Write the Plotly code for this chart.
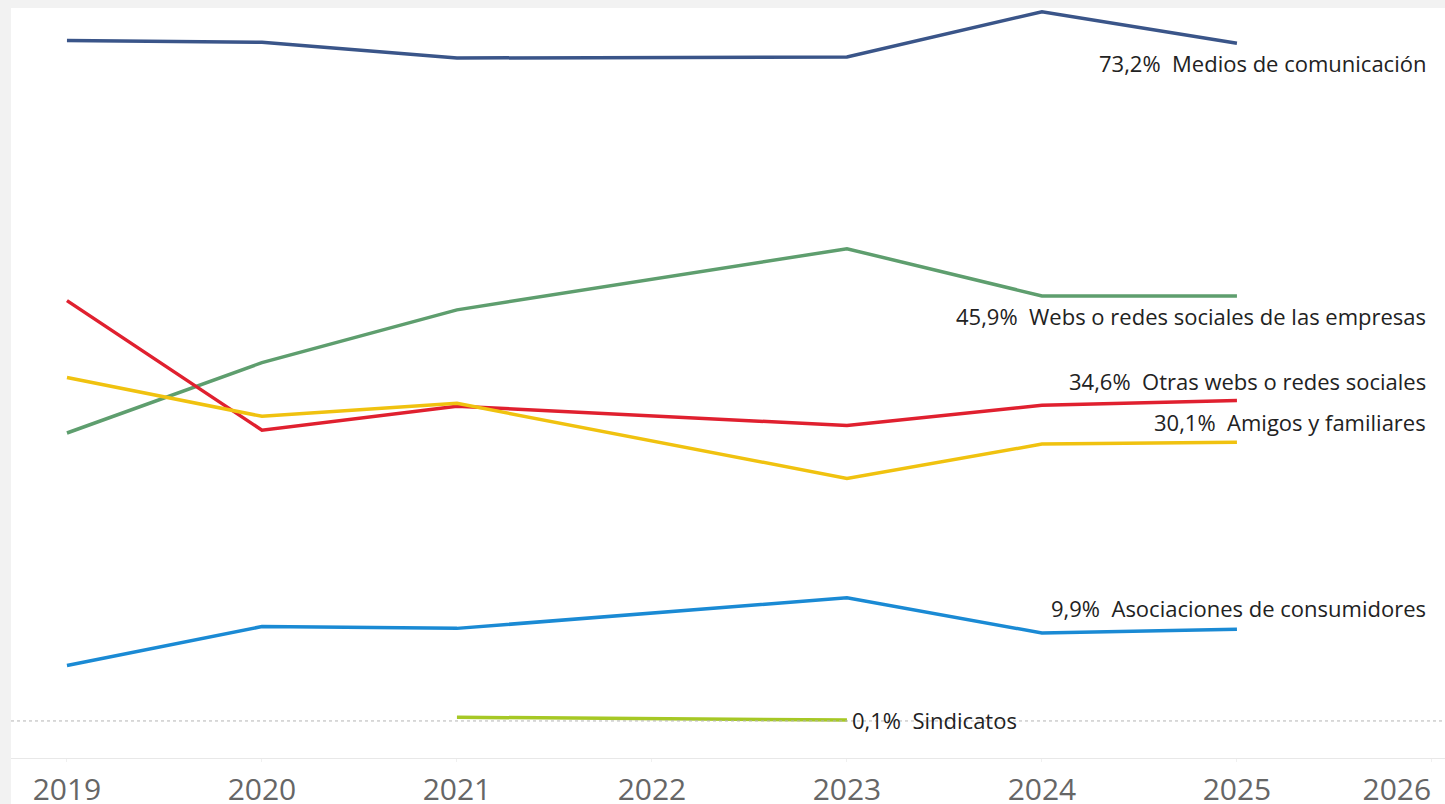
import plotly.graph_objects as go

years = [2019, 2020, 2021, 2023, 2024, 2025]

medios = [73.5, 73.3, 71.6, 71.7, 76.6, 73.2]
webs_empresas = [31.1, 38.7, 44.4, 51.0, 45.9, 45.9]
otras_webs = [45.4, 31.4, 34.0, 31.9, 34.1, 34.6]
amigos = [37.1, 32.9, 34.3, 26.2, 29.9, 30.1]
asociaciones = [6.0, 10.2, 10.0, 13.3, 9.5, 9.9]

sindicatos_years = [2021, 2023]
sindicatos = [0.4, 0.1]

tick_years = [2019, 2020, 2021, 2022, 2023, 2024, 2025, 2026]

series = [
    ("Medios de comunicación", years, medios, "#3a5589", 20),
    ("Webs o redes sociales de las empresas", years, webs_empresas, "#5e9e6e", 20),
    ("Otras webs o redes sociales", years, otras_webs, "#e0202f", -20),
    ("Amigos y familiares", years, amigos, "#f0c20f", -20),
    ("Asociaciones de consumidores", years, asociaciones, "#1a8ad4", -21),
]

fig = go.Figure()

for name, xs, ys, color, shift in series:
    fig.add_trace(go.Scatter(x=xs, y=ys, mode="lines", name=name,
                             line=dict(color=color, width=3.5)))
    fig.add_annotation(x=1, xref="paper", y=ys[-1], yref="y",
                       text=f"{ys[-1]:.1f}%  {name}".replace(".", ","),
                       xanchor="right", yanchor="middle", xshift=-17, yshift=-shift,
                       showarrow=False, font=dict(size=22, color="#222222"))

fig.add_trace(go.Scatter(x=sindicatos_years, y=sindicatos, mode="lines", name="Sindicatos",
                         line=dict(color="#a6c825", width=3.5)))
fig.add_annotation(x=sindicatos_years[-1], y=sindicatos[-1],
                   text=f"{sindicatos[-1]:.1f}%  Sindicatos".replace(".", ","),
                   xanchor="left", yanchor="middle", xshift=3,
                   showarrow=False, font=dict(size=22, color="#222222"))

fig.add_hline(y=0, line=dict(color="#b5b5b5", width=1, dash="dot"))

# white panel behind the axis labels
fig.add_shape(type="rect", xref="paper", yref="paper", x0=0, x1=1.01, y0=-0.07, y1=1,
              fillcolor="white", line_width=0, layer="below")

tick_text = [str(y) for y in tick_years]
tick_text[-1] = tick_text[-1] + "\u00a0" * 9

fig.update_layout(
    width=1445, height=804,
    margin=dict(l=11, r=0, t=8, b=46),
    paper_bgcolor="#f2f2f2", plot_bgcolor="white",
    showlegend=False,
    font=dict(family="Open Sans, sans-serif"),
    xaxis=dict(range=[2018.713, 2026.067], tickvals=tick_years, ticktext=tick_text,
               showgrid=False, zeroline=False, showline=True, linecolor="#e8e8e8",
               ticks="outside", ticklen=3, tickcolor="#f0f0f0",
               ticklabeloverflow="allow", automargin=False, ticklabelstandoff=2,
               tickfont=dict(size=30, color="#666666")),
    yaxis=dict(range=[-4.0, 77.0], visible=False, showgrid=False, zeroline=False,
               automargin=False),
)

fig.write_html("out.html", config={"displayModeBar": False},
               post_script="document.body.style.margin='0';document.body.style.overflow='hidden';")
